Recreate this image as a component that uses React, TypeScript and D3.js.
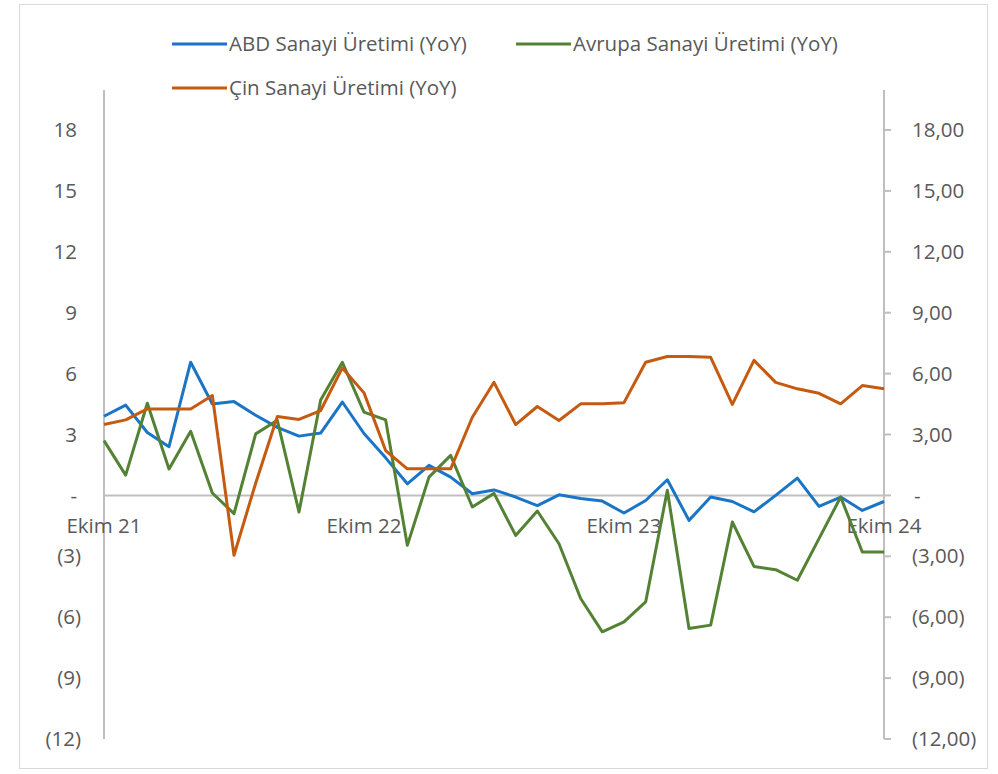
import React from "react";
import * as d3 from "d3";

const months: Date[] = d3.timeMonth.range(new Date(2021, 9, 1), new Date(2024, 10, 1));

const abd: number[] = [
  3.9, 4.45, 3.1, 2.4, 6.56, 4.5, 4.62, 3.95, 3.35, 2.92, 3.07, 4.6, 3.05,
  1.85, 0.57, 1.48, 0.9, 0.08, 0.27, -0.08, -0.5, 0.03, -0.15, -0.28, -0.87,
  -0.25, 0.77, -1.23, -0.08, -0.3, -0.81, 0.0, 0.85, -0.54, -0.08, -0.74, -0.3,
];
const avrupa: number[] = [
  2.7, 1.0, 4.54, 1.3, 3.16, 0.12, -0.9, 3.03, 3.7, -0.82, 4.7, 6.56, 4.1,
  3.72, -2.46, 0.9, 1.97, -0.57, 0.1, -1.97, -0.77, -2.38, -5.08, -6.72, -6.23,
  -5.25, 0.25, -6.56, -6.39, -1.31, -3.5, -3.66, -4.18, -2.13, -0.08, -2.79, -2.79,
];
const cin: number[] = [
  3.49, 3.72, 4.26, 4.26, 4.26, 4.92, -2.95, 0.6, 3.89, 3.74, 4.18, 6.28, 5.05,
  2.21, 1.31, 1.31, 1.31, 3.85, 5.57, 3.49, 4.38, 3.69, 4.51, 4.51, 4.57,
  6.56, 6.84, 6.84, 6.8, 4.48, 6.65, 5.57, 5.25, 5.03, 4.51, 5.41, 5.25,
];

const yTicks: number[] = [18, 15, 12, 9, 6, 3, 0, -3, -6, -9, -12];
const xTickIdx: number[] = [0, 12, 24, 36];
const xTickLabels: string[] = ["Ekim 21", "Ekim 22", "Ekim 23", "Ekim 24"];

const seriesNames: string[] = [
  "ABD Sanayi Üretimi (YoY)",
  "Avrupa Sanayi Üretimi (YoY)",
  "Çin Sanayi Üretimi (YoY)",
];
const seriesColors: string[] = ["#1B75C6", "#548235", "#C55A11"];

const FONT = "'Open Sans', 'Noto Sans', sans-serif";
const TXT = "#595959";
const GRID = "#BFBFBF";
const FS = 20.5;

function leftFmt(v: number): string {
  if (v === 0) return "-";
  if (v < 0) return `(${Math.abs(v)})`;
  return `${v}`;
}
function rightFmt(v: number): string {
  if (v === 0) return "-";
  const s = Math.abs(v).toFixed(2).replace(".", ",");
  return v < 0 ? `(${s})` : s;
}

export default function App() {
  const W = 998;
  const H = 774;
  const left = 104;
  const right = 884;
  const x = d3.scaleLinear().domain([0, months.length - 1]).range([left, right]);
  const y = d3.scaleLinear().domain([-12, 18]).range([739, 130]);
  const line = d3
    .line<number>()
    .x((_, i) => x(i))
    .y((d) => y(d));
  const all = [abd, avrupa, cin];
  const axisTop = 90;

  const legend = [
    { lx: 172, ly: 44 },
    { lx: 516, ly: 44 },
    { lx: 172, ly: 88 },
  ];

  return (
    <svg
      width={W}
      height={H}
      style={{ position: "absolute", left: 0, top: 0, background: "#fff" }}
      fontFamily={FONT}
    >
      <rect x={19.5} y={4.5} width={968} height={764} fill="#fff" stroke="#D9D9D9" strokeWidth={1} />

      {/* legend */}
      {seriesNames.map((name, i) => (
        <g key={name}>
          <line
            x1={legend[i].lx}
            x2={legend[i].lx + 55}
            y1={legend[i].ly}
            y2={legend[i].ly}
            stroke={seriesColors[i]}
            strokeWidth={3}
          />
          <text x={legend[i].lx + 57} y={legend[i].ly} dy="0.35em" fontSize={FS} fill={TXT}>
            {name}
          </text>
        </g>
      ))}

      {/* axes */}
      <line x1={left} x2={left} y1={axisTop} y2={y(-12)} stroke={GRID} strokeWidth={2} />
      <line x1={right} x2={right} y1={axisTop} y2={y(-12)} stroke={GRID} strokeWidth={2} />
      {yTicks.map((t) => (
        <line key={`rt${t}`} x1={right} x2={right + 7} y1={y(t)} y2={y(t)} stroke={GRID} strokeWidth={2} />
      ))}
      <line x1={left} x2={right} y1={y(0)} y2={y(0)} stroke={GRID} strokeWidth={2} />

      {/* left tick labels */}
      {yTicks.map((t) => (
        <text
          key={`l${t}`}
          x={t < 0 ? 81 : 77}
          y={y(t)}
          dy="0.35em"
          textAnchor="end"
          fontSize={FS}
          fill={TXT}
        >
          {leftFmt(t)}
        </text>
      ))}
      {/* right tick labels */}
      {yTicks.map((t) => (
        <text
          key={`r${t}`}
          x={t === 0 ? 914 : 912}
          y={y(t)}
          dy="0.35em"
          textAnchor="start"
          fontSize={FS}
          fill={TXT}
        >
          {rightFmt(t)}
        </text>
      ))}

      {/* x labels */}
      {xTickIdx.map((idx, i) => (
        <text key={`x${idx}`} x={x(idx)} y={526} dy="0.35em" textAnchor="middle" fontSize={FS} fill={TXT}>
          {xTickLabels[i]}
        </text>
      ))}

      {/* series */}
      {all.map((s, i) => (
        <path
          key={`s${i}`}
          d={line(s) || ""}
          fill="none"
          stroke={seriesColors[i]}
          strokeWidth={3}
          strokeLinejoin="round"
        />
      ))}
    </svg>
  );
}
